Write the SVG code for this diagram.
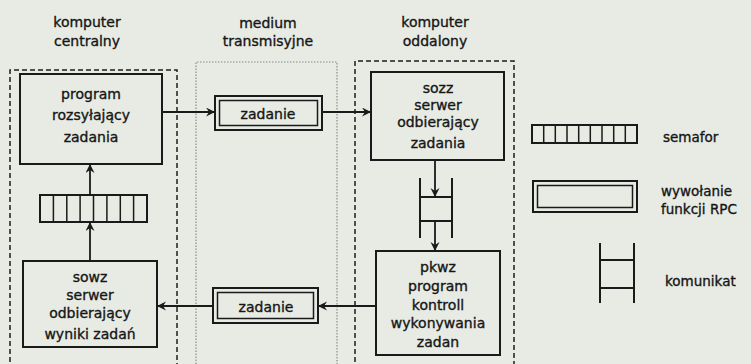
<svg xmlns="http://www.w3.org/2000/svg" width="751" height="364" viewBox="0 0 751 364">
<style>
text{font-family:"DejaVu Sans","Liberation Sans",sans-serif;font-size:14px;fill:#161616;stroke:#161616;stroke-width:0.35;text-anchor:middle}
.lg{text-anchor:start;font-size:13.5px}
.box{fill:none;stroke:#1a1a1a;stroke-width:2}
.inner{fill:none;stroke:#1a1a1a;stroke-width:1.5}
.dash{fill:none;stroke:#1e1e1e;stroke-width:1.5;stroke-dasharray:5 3}
.dot{fill:none;stroke:#8a8a8a;stroke-width:1.2;stroke-dasharray:1.5 1.5}
.cell{stroke:#1a1a1a;stroke-width:1.5}
.conn{fill:none;stroke:#1a1a1a;stroke-width:1.8;marker-end:url(#ah)}
.rail{stroke:#1a1a1a;stroke-width:2}
</style>
<defs>
<marker id="ah" markerUnits="userSpaceOnUse" markerWidth="10" markerHeight="10" refX="9" refY="4.5" orient="auto">
<path d="M0,0 L9,4.5 L0,9 L3,4.5 z" fill="#1a1a1a"/>
</marker>
</defs>
<rect width="751" height="364" fill="#e7ebe4"/>

<g id="zones">
<path class="dash" d="M10,370 V70 H177 V370"/>
<path class="dot" d="M196,370 V62 H337 V370"/>
<path class="dash" d="M355,370 V61 H514 V370"/>
<text x="87" y="27">komputer</text>
<text x="87" y="46">centralny</text>
<text x="268" y="28">medium</text>
<text x="268" y="46">transmisyjne</text>
<text x="435" y="27">komputer</text>
<text x="435" y="46">oddalony</text>
</g>

<g id="program">
<rect class="box" x="20" y="74" width="142" height="90"/>
<text x="91" y="99">program</text>
<text x="91" y="120">rozsyłający</text>
<text x="91" y="142">zadania</text>
</g>

<g id="semafor">
<rect class="box" x="40" y="195" width="107" height="27"/>
<g class="cell">
<line x1="53.4" y1="195" x2="53.4" y2="222"/>
<line x1="66.8" y1="195" x2="66.8" y2="222"/>
<line x1="80.1" y1="195" x2="80.1" y2="222"/>
<line x1="93.5" y1="195" x2="93.5" y2="222"/>
<line x1="106.9" y1="195" x2="106.9" y2="222"/>
<line x1="120.3" y1="195" x2="120.3" y2="222"/>
<line x1="133.6" y1="195" x2="133.6" y2="222"/>
</g>
</g>

<g id="sowz">
<rect class="box" x="23" y="261" width="134" height="86"/>
<text x="90" y="282">sowz</text>
<text x="90" y="300">serwer</text>
<text x="90" y="318">odbierający</text>
<text x="90" y="339">wyniki zadań</text>
</g>

<g id="zadanie1">
<rect class="box" x="215" y="96" width="107" height="34"/>
<rect class="inner" x="219.5" y="100.5" width="98" height="25"/>
<text x="268" y="119">zadanie</text>
</g>

<g id="zadanie2">
<rect class="box" x="213" y="288" width="105" height="35"/>
<rect class="inner" x="217.5" y="292.5" width="96" height="26"/>
<text x="266" y="312">zadanie</text>
</g>

<g id="sozz">
<rect class="box" x="371" y="72" width="133" height="88"/>
<text x="438" y="93">sozz</text>
<text x="438" y="110">serwer</text>
<text x="438" y="127">odbierający</text>
<text x="438" y="148">zadania</text>
</g>

<g id="komunikat">
<line class="rail" x1="420" y1="178" x2="420" y2="238"/>
<line class="rail" x1="452" y1="178" x2="452" y2="238"/>
<line class="rail" x1="420" y1="197" x2="452" y2="197"/>
<line class="rail" x1="420" y1="221" x2="452" y2="221"/>
</g>

<g id="pkwz">
<rect class="box" x="376" y="251" width="124" height="104"/>
<text x="438" y="272">pkwz</text>
<text x="438" y="291">program</text>
<text x="438" y="310">kontroll</text>
<text x="438" y="328">wykonywania</text>
<text x="438" y="347">zadan</text>
</g>

<g id="connectors">
<path class="conn" d="M162,112 H215"/>
<path class="conn" d="M322,112 H371"/>
<path class="conn" d="M435,160 V197"/>
<path class="conn" d="M435,221 V251"/>
<path class="conn" d="M376,306 H318"/>
<path class="conn" d="M213,306 H157"/>
<path class="conn" d="M90,261 V222"/>
<path class="conn" d="M90,195 V164"/>
</g>

<g id="legend">
<g id="legend-semafor">
<rect class="box" x="532" y="125" width="105" height="18"/>
<g class="cell">
<line x1="543.7" y1="125" x2="543.7" y2="143"/>
<line x1="555.3" y1="125" x2="555.3" y2="143"/>
<line x1="567" y1="125" x2="567" y2="143"/>
<line x1="578.7" y1="125" x2="578.7" y2="143"/>
<line x1="590.3" y1="125" x2="590.3" y2="143"/>
<line x1="602" y1="125" x2="602" y2="143"/>
<line x1="613.7" y1="125" x2="613.7" y2="143"/>
<line x1="625.3" y1="125" x2="625.3" y2="143"/>
</g>
<text class="lg" x="663" y="142">semafor</text>
</g>
<g id="legend-rpc">
<rect class="box" x="533" y="181" width="104" height="31"/>
<rect class="inner" x="537.5" y="185.5" width="95" height="22"/>
<text class="lg" x="661" y="196">wywołanie</text>
<text class="lg" x="661" y="214">funkcji RPC</text>
</g>
<g id="legend-komunikat">
<line class="rail" x1="600" y1="243" x2="600" y2="303"/>
<line class="rail" x1="634" y1="243" x2="634" y2="303"/>
<line class="rail" x1="600" y1="260" x2="634" y2="260"/>
<line class="rail" x1="600" y1="288" x2="634" y2="288"/>
<text class="lg" x="665" y="286">komunikat</text>
</g>
</g>
</svg>
